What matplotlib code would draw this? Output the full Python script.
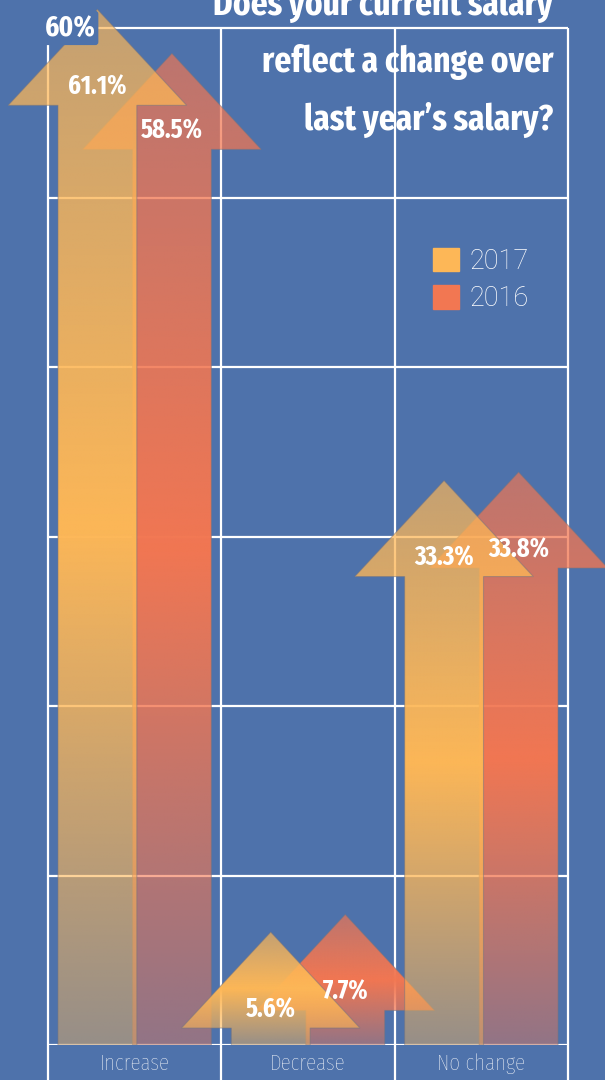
import numpy as np
import matplotlib
matplotlib.use('Agg')
import matplotlib.pyplot as plt
from matplotlib.patches import Polygon, Patch
from matplotlib.colors import to_rgb

# data
categories = ['Increase', 'Decrease', 'No change']
pct_2017 = [61.1, 5.6, 33.3]
pct_2016 = [58.5, 7.7, 33.8]
grid_vals = [0, 10, 20, 30, 40, 50, 60]
title_lines = ['Does your current salary', 'reflect a change over', 'last year\u2019s salary?']

bg = '#4e72ab'
c2017 = '#fdb757'
c2016 = '#f27752'
narrow = ['Fira Sans Extra Condensed', 'Fira Sans Condensed', 'DejaVu Sans']

# pixel geometry of the plot area
px_unit = (1045 - 28) / 60
col_px = 520 / 3
shaft_w = 0.455
head_w = 1.03
head_h = 96 / px_unit

fig = plt.figure(figsize=(6.05, 10.8), dpi=100, facecolor=bg)
ax = fig.add_axes([0, 35 / 1080, 1, 1045 / 1080])
ax.set_facecolor(bg)
for s in ax.spines.values():
    s.set_visible(False)

# grid
ax.hlines(grid_vals, -0.5, 2.5, color='white', lw=1.6, zorder=1)
ax.vlines([-0.5, 0.5, 1.5, 2.5], -35 / px_unit, 60, color='white', lw=1.6,
          zorder=1, clip_on=False)


def draw_arrow(c, val, color, z):
    tip = max(val, head_h + 1.0)
    base = tip - head_h
    pts = [(c - shaft_w / 2, 0), (c - shaft_w / 2, base), (c - head_w / 2, base),
           (c, tip), (c + head_w / 2, base), (c + shaft_w / 2, base),
           (c + shaft_w / 2, 0)]
    poly = Polygon(pts, closed=True, facecolor='none',
                   edgecolor=(0.45, 0.45, 0.5, 0.5), lw=0.8, zorder=z + 0.1)
    ax.add_patch(poly)
    # vertical gradient: fade at top and bottom, full colour in the middle
    n = 256
    f = np.linspace(0, 1, n)
    grad = np.zeros((n, 1, 4))
    grad[:, 0, :3] = to_rgb(color)
    grad[:, 0, 3] = np.interp(f, [0, 0.5, 1], [0.68, 1.0, 0.42])
    im = ax.imshow(grad, extent=[c - head_w / 2, c + head_w / 2, 0, tip],
                   origin='upper', aspect='auto', interpolation='bilinear',
                   zorder=z)
    im.set_clip_path(poly)
    return base


x = np.arange(len(categories))
label_pos = []
for vals, color, off, z in [(pct_2016, c2016, 0.215, 2), (pct_2017, c2017, -0.215, 3)]:
    for i, v in enumerate(vals):
        b = draw_arrow(x[i] + off, v, color, z)
        label_pos.append((x[i] + off, b + 1.1, v))

for xx, yy, v in label_pos:
    ax.text(xx, yy, f'{v}%', ha='center', va='center', color='white',
            fontsize=19, fontweight='bold', family=narrow, zorder=5)

# top value label of the scale
ax.text(-0.5 + 22 / col_px, 60, '60%', ha='center', va='center', color='white',
        fontsize=21, fontweight='bold', family=narrow, zorder=6,
        bbox=dict(boxstyle='round,pad=0.1', fc=bg, ec='none'))

ax.set_xlim(-0.5 - 48 / col_px, 2.5 + 37 / col_px)
ax.set_ylim(0, 1045 / px_unit)
ax.set_yticks([])
ax.set_xticks(x, categories)
ax.tick_params(axis='x', length=0, pad=6, colors='white', labelsize=16.5)
for t in ax.get_xticklabels():
    t.set_family(narrow)
    t.set_fontweight('light')

# legend
handles = [Patch(color=c2017, label='2017'), Patch(color=c2016, label='2016')]
leg = ax.legend(handles=handles, loc='upper left', frameon=False,
                bbox_to_anchor=(433 / 605, 1 - 248 / 1080),
                bbox_transform=fig.transFigure, borderpad=0, borderaxespad=0,
                handlelength=0.95, handleheight=0.95, handletextpad=0.4,
                labelspacing=0.38, prop={'family': 'Roboto', 'weight': 'light', 'size': 19.5})
for t in leg.get_texts():
    t.set_color('white')

# title, right aligned, top line cut by the edge
for k, line in enumerate(title_lines):
    fig.text(553 / 605, 1 - (15 + 57.5 * k) / 1080, line, ha='right', va='baseline',
             color='white', fontsize=26, fontweight='bold', family=narrow)

fig.savefig('out.png', dpi=100, facecolor=bg)
